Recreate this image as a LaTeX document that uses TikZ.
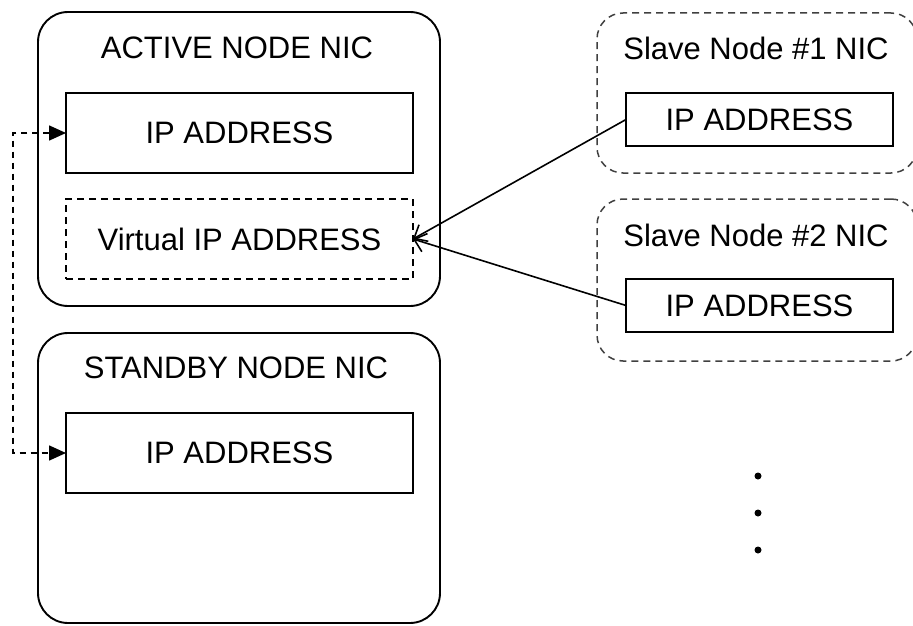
\documentclass[tikz,border=0pt]{standalone}
\usepackage{fontspec}
\setmainfont{Liberation Sans}
\usetikzlibrary{arrows.meta}
\begin{document}
\begin{tikzpicture}[x=1pt,y=-1pt,
  every node/.style={inner sep=0pt, outer sep=0pt},
  labeltext/.style={font=\fontsize{31}{36}\selectfont},
  nicbox/.style={draw, line width=1.9pt, rounded corners=30pt, rectangle},
  slavebox/.style={draw=black!75, line width=1.5pt, rounded corners=26pt, rectangle,
    dash pattern=on 7pt off 5pt},
  ipbox/.style={draw, line width=1.9pt, rectangle, fill=white, labeltext},
  vipbox/.style={draw, line width=1.8pt, rectangle, fill=white, labeltext,
    dash pattern=on 7pt off 5pt},
  linkline/.style={line width=1.6pt, dash pattern=on 6pt off 5pt,
    {Triangle[length=17pt,width=15pt]}-{Triangle[length=17pt,width=15pt]}},
  vipline/.style={line width=1.6pt, -{Straight Barb[length=11pt,width=19pt]}},
  dot/.style={fill, circle, minimum size=7pt}
]
\useasboundingbox (0,0) rectangle (913,626);

% active node NIC
\node[nicbox, minimum width=402pt, minimum height=294pt] (active) at (239,159) {};
\node[labeltext] (activeT) at (237,48) {ACTIVE NODE NIC};
\node[ipbox, minimum width=347pt, minimum height=80pt] (ipA) at (239.5,133) {IP ADDRESS};
\node[vipbox, minimum width=347pt, minimum height=80pt] (vip) at (239.5,239) {Virtual IP ADDRESS};

% standby node NIC
\node[nicbox, minimum width=402pt, minimum height=290pt] (standby) at (239,478) {};
\node[labeltext] (standbyT) at (236,368) {STANDBY NODE NIC};
\node[ipbox, minimum width=347pt, minimum height=80pt] (ipB) at (239.5,453) {IP ADDRESS};

% slave nodes
\node[slavebox, minimum width=320pt, minimum height=160pt] (slave1) at (757,93) {};
\node[labeltext] (slave1T) at (756,48) {Slave Node \#1 NIC};
\node[ipbox, minimum width=267pt, minimum height=53pt] (ipS1) at (759.5,119.5) {IP ADDRESS};

\node[slavebox, minimum width=320pt, minimum height=162pt] (slave2) at (757,280) {};
\node[labeltext] (slave2T) at (756,235) {Slave Node \#2 NIC};
\node[ipbox, minimum width=267pt, minimum height=53pt] (ipS2) at (759.5,305.5) {IP ADDRESS};

% failover link between active and standby addresses
\coordinate (rail) at (13,133);
\draw[linkline] (ipA.west) -- (ipA.west -| rail) |- (ipB.west);

% slaves point at the virtual address
\draw[vipline] (ipS1.west) -- (vip.east);
\draw[vipline] (ipS2.west) -- (vip.east);

% more slaves
\node[dot] (d1) at (758,476) {};
\node[dot] (d2) at (758,513) {};
\node[dot] (d3) at (758,550) {};
\end{tikzpicture}
\end{document}
